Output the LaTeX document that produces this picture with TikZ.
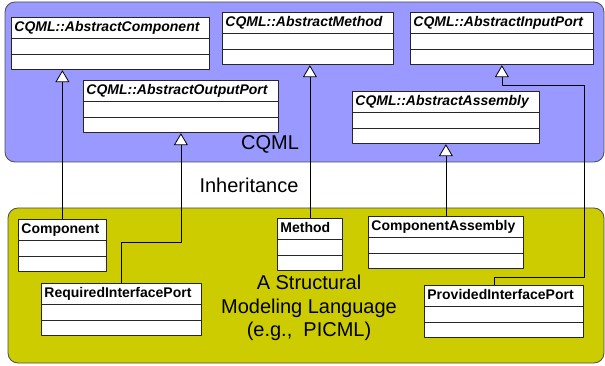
\documentclass[tikz,border=0pt]{standalone}
\usepackage{fontspec}
\setmainfont{Liberation Sans}
\usetikzlibrary{shapes.multipart,arrows.meta,calc}
\definecolor{cqmlblue}{RGB}{153,153,255}
\definecolor{picmlolive}{RGB}{204,204,0}
\newcommand{\clsname}[1]{\rule[-3.5pt]{0pt}{14pt}#1}
\newcommand{\clsrow}{\rule{0pt}{9pt}}

\begin{document}
\begin{tikzpicture}[x=1pt,y=-1pt,line join=round,
    umlclass/.style={draw=black!85,fill=white,line width=0.8pt,rectangle split,rectangle split parts=3,
      inner xsep=3pt,inner ysep=3pt,anchor=north west,font=\fontsize{14}{16}\selectfont\bfseries},
    abstract/.style={umlclass,font=\fontsize{14}{16}\selectfont\bfseries\itshape},
    inherit/.style={line width=0.8pt,-{Triangle[length=12pt,width=14pt,fill=white]}},
    package/.style={draw=black!70,line width=0.8pt,rounded corners=10pt},
    biglabel/.style={font=\fontsize{20}{23.5}\selectfont,align=center}]
	\useasboundingbox (0,0) rectangle (605,366);
	% packages
	\draw[package,fill=cqmlblue] (5,2) rectangle (604,162);
	\draw[package,fill=picmlolive] (8,208) rectangle (604,363);
	\node[biglabel] (cqml) at (270,144) {CQML};
	\node[biglabel] (inh) at (249,185) {Inheritance};
	\node[biglabel] (asml) at (309,308) {A Structural\\Modeling Language\\(e.g.,\ \ PICML)};
	% CQML classes
	\foreach \n/\x/\y/\w/\t in {acomp/11/17/192/AbstractComponent, ameth/222/12/165/AbstractMethod,
		aip/410/12/177/AbstractInputPort, aout/83/80/189/AbstractOutputPort, aasm/352/91/181/AbstractAssembly}
		{\node[abstract,text width=\w pt] (\n) at (\x,\y) {\clsname{CQML::\t}\nodepart{two}\clsrow\nodepart{three}\clsrow};}
	% modeling language classes
	\foreach \n/\x/\y/\w/\t in {comp/18/219/82/Component, rip/41/283/154/RequiredInterfacePort, meth/277/218/59/Method,
		cass/368/216/149/ComponentAssembly, pip/424/285/153/ProvidedInterfacePort}
		{\node[umlclass,text width=\w pt] (\n) at (\x,\y) {\clsname{\t}\nodepart{two}\clsrow\nodepart{three}\clsrow};}
	% inheritance
	\draw[inherit] (comp.north) -- (comp.north |- acomp.south);
	\draw[inherit] (rip.north) -- ++(0,-41) -| (aout.south);
	\draw[inherit] (meth.north) -- (meth.north |- ameth.south);
	\draw[inherit] (cass.north) -- (aasm.south);
	\draw[inherit] ($(pip.north)+(-10,0)$) -- ++(0,-8) -- ++(90,0) |- ($(aip.south)+(0,20)$) -- (aip.south);
\end{tikzpicture}
\end{document}
